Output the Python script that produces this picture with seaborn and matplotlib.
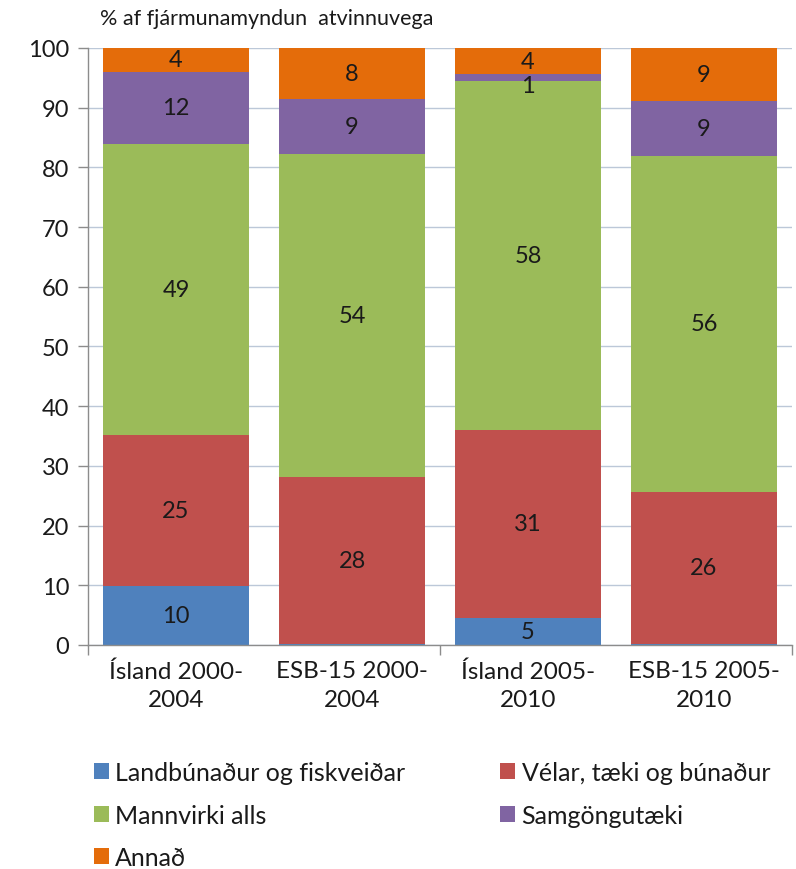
import numpy as np
import pandas as pd
import matplotlib
matplotlib.use("Agg")
import matplotlib.pyplot as plt
from matplotlib.patches import Patch
import seaborn as sns

categories = ["Ísland 2000-\n2004", "ESB-15 2000-\n2004", "Ísland 2005-\n2010", "ESB-15 2005-\n2010"]
series_names = ["Landbúnaður og fiskveiðar", "Vélar, tæki og búnaður", "Mannvirki alls", "Samgöngutæki", "Annað"]
landbunadur = [9.8, 0.2, 4.6, 0.2]
velar = [25.4, 28.0, 31.4, 25.5]
mannvirki = [48.7, 54.0, 58.5, 56.2]
samgongutaeki = [12.1, 9.3, 1.1, 9.3]
annad = [4.0, 8.5, 4.4, 8.8]
colors = ["#4F81BD", "#C0504D", "#9BBB59", "#8064A2", "#E46C0A"]
yticks = list(range(0, 101, 10))
title = "% af fjármunamyndun  atvinnuvega"

sns.set_theme(style="white")
plt.rcParams["font.family"] = ["Lato", "DejaVu Sans"]

values = np.array([landbunadur, velar, mannvirki, samgongutaeki, annad])
cum = values.cumsum(axis=0)

fig = plt.figure(figsize=(7.96, 8.70), dpi=100)
ax = fig.add_axes([0.1106, 0.2575, 0.8844, 0.6862])

# draw stacked bars from the top layer down
for i in range(len(series_names) - 1, -1, -1):
    df = pd.DataFrame({"cat": categories, "val": cum[i]})
    sns.barplot(data=df, x="cat", y="val", color=colors[i], saturation=1,
                width=0.83, ax=ax, zorder=2, linewidth=0)

# value labels
for i in range(len(series_names)):
    for j in range(len(categories)):
        v = values[i, j]
        if v >= 0.95:
            y = cum[i, j] - v / 2
            if v < 2:
                y -= 1.3  # small segment: label drops just below, as in the original
            ax.text(j, y, f"{v:.0f}", ha="center", va="center",
                    fontsize=17, color="#1a1a1a", zorder=3)

ax.set_ylim(0, 100)
ax.set_xlim(-0.5, len(categories) - 0.5)
ax.set_yticks(yticks)
ax.set_yticklabels([str(t) for t in yticks], fontsize=17, color="#1a1a1a")
ax.set_xticks(range(len(categories)))
ax.set_xticklabels(categories, fontsize=17.5, color="#1a1a1a", linespacing=1.45)
ax.set_xlabel("")
ax.set_ylabel("")
ax.yaxis.grid(True, color="#BCC8D8", linewidth=1.0, zorder=0)
ax.set_axisbelow(True)

for s in ["top", "right"]:
    ax.spines[s].set_visible(False)
for s in ["left", "bottom"]:
    ax.spines[s].set_color("#8C8C8C")
    ax.spines[s].set_linewidth(1.0)

ax.tick_params(axis="y", which="major", length=7.5, width=1, color="#8C8C8C", direction="out", pad=6, left=True)
ax.tick_params(axis="x", which="major", length=0, pad=11)
ax.set_xticks([-0.5, 1.5, 3.5], minor=True)
ax.tick_params(axis="x", which="minor", length=7, width=1, color="#8C8C8C", direction="out", bottom=True)

fig.text(0.125, 0.978, title, fontsize=15.5, color="#1a1a1a", ha="left", va="center")

handles = [Patch(facecolor=colors[k], edgecolor="none") for k in range(5)]
order = [0, 2, 4, 1, 3]
fig.legend([handles[k] for k in order], [series_names[k] for k in order],
           ncol=2, loc="upper left", bbox_to_anchor=(0.118, 0.124),
           frameon=False, fontsize=18, handlelength=0.6, handleheight=0.6,
           handletextpad=0.25, columnspacing=3.8, labelspacing=0.78,
           borderaxespad=0, borderpad=0, labelcolor="#1a1a1a")

fig.savefig("out.png", dpi=100)
